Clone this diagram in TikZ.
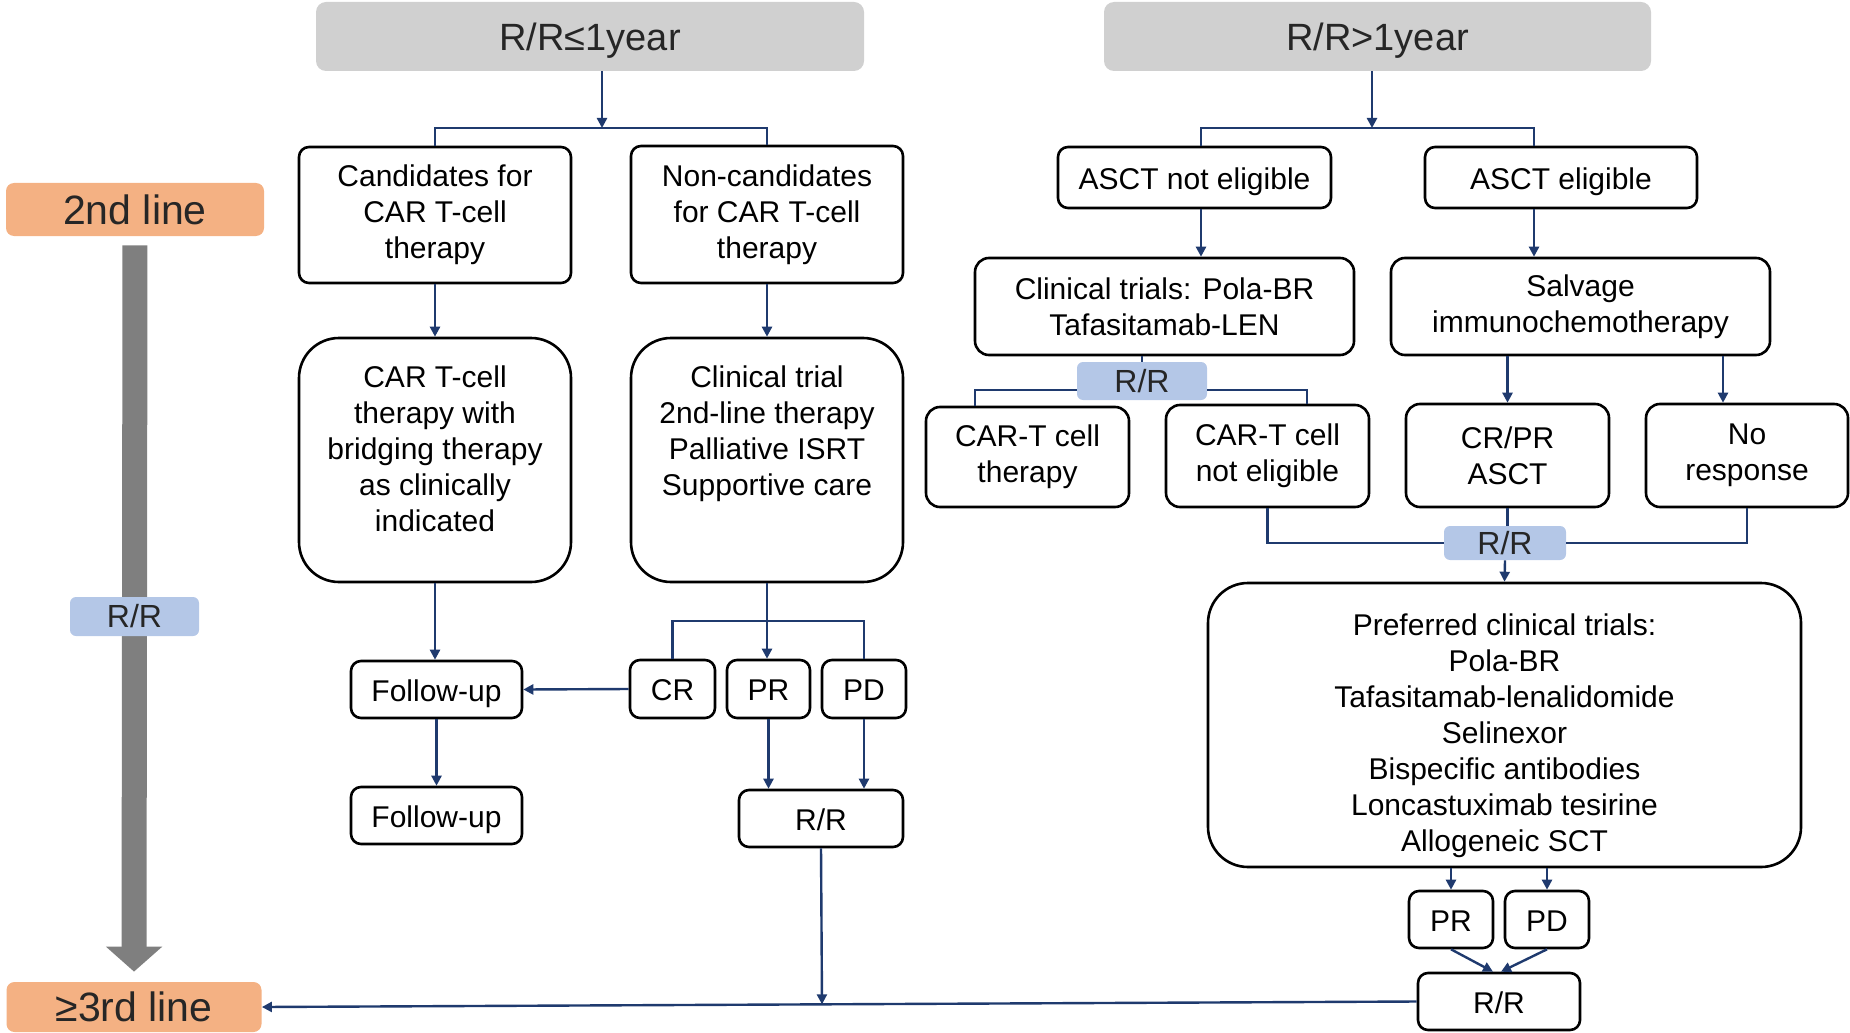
\documentclass[tikz,border=0pt]{standalone}
\usepackage{fontspec}
\setmainfont{Liberation Sans}
\usepackage{xcolor}
\usepackage{tikz}
\usetikzlibrary{arrows.meta,calc}
\definecolor{navyln}{HTML}{1F3A6E}
\definecolor{hdrgray}{HTML}{D0D0D0}
\definecolor{lvlorange}{HTML}{F4B183}
\definecolor{tagblue}{HTML}{B4C7E7}
\definecolor{bigarrow}{HTML}{7F7F7F}
\tikzset{
  box/.style={rectangle, rounded corners=5pt, draw=black, line width=1.3pt,
              fill=white, align=center, inner sep=2pt, font=\fontsize{15}{18}\selectfont},
  one/.style={box, text height=13pt, text depth=1.4pt},
  bbox/.style={box, rounded corners=20pt},
  ar/.style={-{Triangle[length=5pt,width=5pt]}, draw=navyln, line width=1.2pt},
  ln/.style={draw=navyln, line width=1.2pt}
}

\begin{document}
\begin{tikzpicture}[
  x=0.5pt, y=-0.5pt,
  hdr/.style={rectangle, rounded corners=5pt, fill=hdrgray, text=black!85,
              minimum height=34.5pt, text height=14pt, text depth=0.4pt,
              font=\fontsize{19}{23}\selectfont},
  lvl/.style={rectangle, rounded corners=4pt, fill=lvlorange, text=black!85,
              font=\fontsize{20.5}{24}\selectfont},
  tag/.style={rectangle, rounded corners=3pt, fill=tagblue, text=black!85,
              inner sep=0pt, font=\fontsize{16}{19}\selectfont},
  bigar/.style={-{Triangle[length=12.5pt,width=27.5pt]}, draw=bigarrow, line width=12.5pt}
]
\useasboundingbox (0,0) rectangle (1850,1032);
% ---- line markers ----
\node[lvl, minimum width=129pt, minimum height=26.5pt] (l2) at (135,209.5) {2nd line};
\node[lvl, minimum width=127.5pt, minimum height=25pt] (l3) at (134,1007) {≥3rd line};
\draw[bigar, shorten <=4.5pt, shorten >=5pt] (l2.south) -- (l3.north);
\node[tag, minimum width=64.5pt, minimum height=19.5pt] (tg1) at (134.5,616.5) {R/R};
% ---- R/R <= 1 year ----
\node[hdr, minimum width=274pt] (hL) at (590,36.5) {R/R≤1year};
\node[box, minimum width=136pt, minimum height=68pt] (c1) at (435,215) {Candidates for\\CAR T-cell\\therapy};
\node[box, minimum width=136pt, minimum height=68.5pt] (c2) at (767,214.5) {Non-candidates\\for CAR T-cell\\therapy};
\node[bbox, minimum width=136pt, minimum height=122pt] (b1) at (435,460) {CAR T-cell\\therapy with\\bridging therapy\\as clinically\\indicated\\[-7pt]\mbox{}};
\node[bbox, minimum width=136pt, minimum height=122pt] (b2) at (767,460) {Clinical trial\\2nd-line therapy\\Palliative ISRT\\Supportive care\\[11pt]\mbox{}};
\node[one, minimum width=85.5pt, minimum height=28.5pt] (f1) at (436.5,689.5) {Follow-up};
\node[one, minimum width=42.5pt, minimum height=29pt] (cr) at (672.5,689) {CR};
\node[one, minimum width=41.5pt, minimum height=29pt] (pr) at (768.5,689) {PR};
\node[one, minimum width=42pt, minimum height=29pt] (pd) at (864,689) {PD};
\node[one, minimum width=85.5pt, minimum height=28.5pt] (f2) at (436.5,815.5) {Follow-up};
\node[one, minimum width=82pt, minimum height=28.5pt] (rr1) at (821,818.5) {R/R};
% ---- R/R > 1 year ----
\node[hdr, minimum width=273.5pt] (hR) at (1377.5,36.5) {R/R>1year};
\node[one, minimum width=136.5pt, minimum height=30.5pt] (a1) at (1194.5,177.5) {ASCT not eligible};
\node[one, minimum width=136pt, minimum height=30.5pt] (a2) at (1561,177.5) {ASCT eligible};
\node[box, rounded corners=7pt, minimum width=189.5pt, minimum height=48.5pt] (ct) at (1164.5,306.5) {Clinical trials: Pola-BR\\Tafasitamab-LEN};
\node[box, rounded corners=7pt, minimum width=189.5pt, minimum height=48.5pt] (sv) at (1580.5,306.5) {Salvage\\immunochemotherapy};
\node[tag, minimum width=65pt, minimum height=19pt] (tg2) at (1142,381) {R/R};
\node[box, rounded corners=7pt, minimum width=101.5pt, minimum height=50pt] (ct1) at (1027.5,457) {CAR-T cell\\therapy};
\node[box, rounded corners=7pt, minimum width=101.5pt, minimum height=51pt] (ct2) at (1267.5,456) {CAR-T cell\\not eligible};
\node[box, rounded corners=7pt, minimum width=101.5pt, minimum height=51.5pt] (cp) at (1507.5,455.5) {CR/PR\\ASCT};
\node[box, rounded corners=7pt, minimum width=101pt, minimum height=51.5pt] (nr) at (1747,455.5) {No\\response};
\node[tag, minimum width=61pt, minimum height=17pt] (tg3) at (1505,543) {R/R};
\node[bbox, minimum width=296.5pt, minimum height=142pt] (pc) at (1504.5,725) {\mbox{}\\[3.5pt]Preferred clinical trials:\\Pola-BR\\Tafasitamab-lenalidomide\\Selinexor\\Bispecific antibodies\\Loncastuximab tesirine\\Allogeneic SCT};
\node[one, minimum width=42pt, minimum height=28.5pt] (pr2) at (1451,919.5) {PR};
\node[one, minimum width=42pt, minimum height=28.5pt] (pd2) at (1547,919.5) {PD};
\node[one, minimum width=81pt, minimum height=28.5pt] (rr3) at (1499,1001.5) {R/R};
% ---- junctions ----
\coordinate (jL) at (602,128);
\coordinate (jR) at (1372,128);
\coordinate (kA1) at (1201,128);
\coordinate (kA2) at (1534,128);
\coordinate (kB1) at (975,390);
\coordinate (kB2) at (1307,390);
\coordinate (kC2) at (1723,380);
\coordinate (kF) at (767,621);
\coordinate (kE) at (822,1004.3);
% ---- arrows, left ----
\draw[ar] (hL.south -| jL) -- (jL);
\draw[ln] (c1.north) |- (jL) -| (c2.north);
\draw[ar] (c1.south) -- (b1.north);
\draw[ar] (c2.south) -- (b2.north);
\draw[ar] (b1.south) -- (b1.south |- f1.north);
\draw[ar] (f1.south) -- (f2.north);
\draw[ar] (b2.south) -- (b2.south |- pr.north);
\draw[ln] (cr.north) |- (kF) -| (pd.north);
\draw[ar] (cr.west) -- (f1.east);
\draw[ar] (pr.south) -- (pr.south |- rr1.north);
\draw[ar] (pd.south) -- (pd.south |- rr1.north);
\draw[ar] (rr1.south) -- (kE);
% ---- arrows, right ----
\draw[ar] (hR.south -| jR) -- (jR);
\draw[ln] (kA1 |- a1.north) -- (kA1) -- (kA2) -- (kA2 |- a2.north);
\draw[ar] (a1.south -| kA1) -- (ct.north -| kA1);
\draw[ar] (a2.south -| kA2) -- (sv.north -| kA2);
\draw[ln] (ct.south -| tg2) -- (tg2.north);
\draw[ln] (ct1.north -| kB1) -- (kB1) -- (kB1 -| tg2.west);
\draw[ln] (kB2 -| tg2.east) -- (kB2) -- (ct2.north -| kB2);
\draw[ar] (sv.south -| cp) -- (cp.north);
\draw[ar] (sv.south -| kC2) -- (nr.north -| kC2);
\draw[ln] (ct2.south) |- (tg3.west);
\draw[ln] (nr.south) |- (tg3.east);
\draw[ln] (cp.south) -- (cp.south |- tg3.north);
\draw[ar] (tg3.south) -- (pc.north);
\draw[ar] (pc.south -| pr2) -- (pr2.north);
\draw[ar] (pc.south -| pd2) -- (pd2.north);
\draw[ar] (pr2.south) -- ([xshift=-3pt]rr3.north);
\draw[ar] (pd2.south) -- ([xshift=1pt]rr3.north);
\draw[ar] (rr3.west) -- (l3.east);
\end{tikzpicture}
\end{document}
